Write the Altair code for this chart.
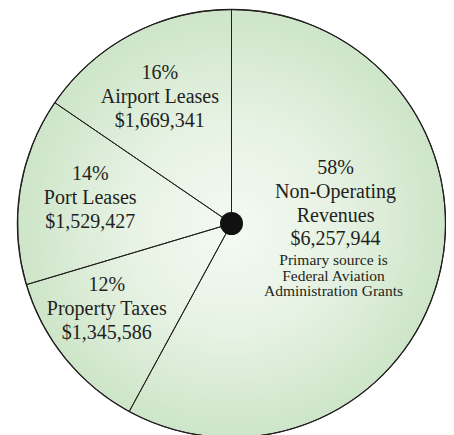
import altair as alt
import pandas as pd

# ---- data ----
categories = ["Non-Operating Revenues", "Property Taxes", "Port Leases", "Airport Leases"]
name_lines = ["Non-Operating\nRevenues", "Property Taxes", "Port Leases", "Airport Leases"]
amounts = [6257944, 1345586, 1529427, 1669341]
percent_labels = ["58%", "12%", "14%", "16%"]
note_text = "Primary source is\nFederal Aviation\nAdministration Grants"

total = sum(amounts)
df = pd.DataFrame({
    "category": categories,
    "amount": amounts,
    "order": list(range(len(categories))),
    "label": [f"{p}\n{n}\n${a:,}" for p, n, a in zip(percent_labels, name_lines, amounts)],
})
df_total = pd.DataFrame({"amount": [total], "note": [note_text]})

CX, CY, R = 223.5, 215.5, 214
FONT = "Liberation Serif"
INK = "#231f20"
theta_scale = alt.Scale(domain=[0, total])
center = dict(x=alt.value(CX), y=alt.value(CY))

gradient = alt.RadialGradient(
    gradient="radial",
    stops=[
        alt.GradientStop(color="#f4faf3", offset=0),
        alt.GradientStop(color="#e6f2e3", offset=0.5),
        alt.GradientStop(color="#cde5c8", offset=1),
    ],
    x1=0.5, y1=0.52, r1=0, x2=0.5, y2=0.5, r2=0.5,
)

background = alt.Chart(df_total).mark_arc(
    outerRadius=R, fill=gradient, stroke=INK, strokeWidth=1.3
).encode(theta=alt.Theta("amount:Q", scale=theta_scale), **center)

slices = alt.Chart(df).mark_arc(
    outerRadius=R, fill="#ffffff", fillOpacity=0, stroke=INK, strokeWidth=1
).encode(
    theta=alt.Theta("amount:Q", stack=True, scale=theta_scale),
    order=alt.Order("order:Q"),
    **center,
)

dot = alt.Chart(df_total).mark_arc(outerRadius=11.5, fill="#111111").encode(
    theta=alt.Theta("amount:Q", scale=theta_scale), **center
)

text_base = alt.Chart(df).transform_stack(
    stack="amount", groupby=[], as_=["t0", "t1"], sort=[alt.SortField("order")]
).transform_calculate(mid="(datum.t0 + datum.t1) / 2")


def label_layer(cat, radius, dx, dy):
    return text_base.transform_filter(alt.datum.category == cat).mark_text(
        font=FONT, fontSize=20, lineHeight=23.7, lineBreak="\n", color=INK,
        align="center", baseline="middle", dx=dx, dy=dy,
    ).encode(
        theta=alt.Theta("mid:Q", scale=theta_scale),
        radius=alt.value(radius),
        text="label:N",
        **center,
    )


labels = [
    label_layer("Airport Leases", 145, -4, -22),
    label_layer("Port Leases", 144, 1, -27),
    label_layer("Property Taxes", 149, -9, -32),
    label_layer("Non-Operating Revenues", 96, 11, -79),
]

note = alt.Chart(df_total).mark_text(
    font=FONT, fontSize=15.5, lineHeight=15.5, lineBreak="\n", color=INK,
    align="center", baseline="middle", dx=102, dy=36.5,
).encode(text="note:N", **center)

chart = alt.layer(background, slices, dot, *labels, note).properties(
    width=438, height=427, autosize=alt.AutoSizeParams(type="none"), padding=0
).configure_view(stroke=None)

chart.save("out.html", embed_options={"renderer": "svg", "actions": False})
